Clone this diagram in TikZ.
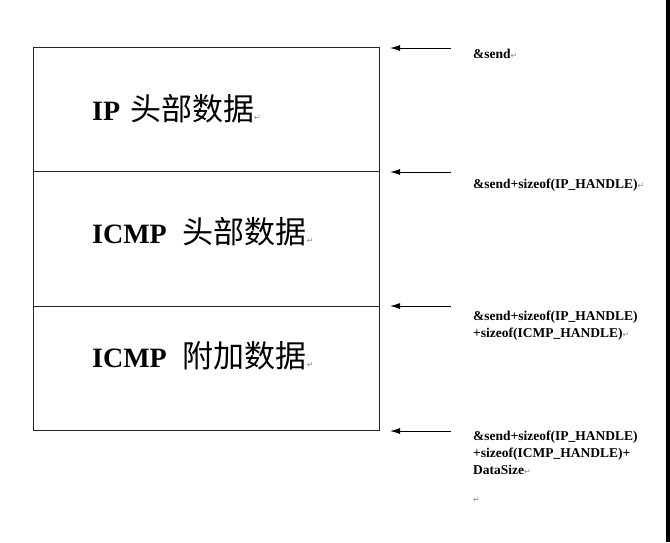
\documentclass[tikz,border=0pt]{standalone}
\usepackage{fontspec}
\setmainfont{Liberation Serif}
\newfontfamily\cjk{Noto Sans CJK SC}
\newfontfamily\markfont{DejaVu Sans}
\usetikzlibrary{arrows.meta,positioning}

\newcommand{\zh}[1]{{\cjk\mdseries\fontsize{31}{31}\selectfont #1}}
\newcommand{\pmark}{{\markfont\mdseries\fontsize{8}{8}\selectfont\color{black!45}↵}}

\begin{document}
\begin{tikzpicture}[x=1pt,y=-1pt,
    box/.style={draw=black!85, line width=0.9pt},
    boxtext/.style={anchor=base west, inner sep=0, font=\bfseries\fontsize{28}{30}\selectfont},
    addr/.style={anchor=base west, inner sep=0, align=left, font=\bfseries\fontsize{13.5}{17}\selectfont},
    ptr/.style={-{Latex[length=10pt,width=6pt]}, line width=1pt}]

    \useasboundingbox (0,0) rectangle (670,542);

    % Stack
    \foreach \i/\ya/\yb/\yt/\gap/\name/\zhtext in {1/47/171/120/3/IP/头部数据,
                                    2/171/306/243/9/ICMP/头部数据,
                                    3/306/430/367/9/ICMP/附加数据} {
        \draw [box] (33,\ya) rectangle (379,\yb);
        \node [boxtext] (data\i) at (92,\yt) {\name\ \hspace{\gap pt}\zh{\zhtext}\pmark};
    }

    % Pointers
    \foreach \i/\y in {1/48,2/172,3/306,4/431} {
        \coordinate (from\i) at (451,\y);
        \coordinate (to\i) at (390,\y);
        \draw [ptr] (from\i) -- (to\i);
    }

    % Addresses (base = last line)
    \node [addr] (addr1) at (473,58) {\&send\pmark};
    \node [addr] (addr2) at (473,188) {\&send+sizeof(IP\_HANDLE)\pmark};
    \node [addr] (addr3) at (473,337) {\&send+sizeof(IP\_HANDLE)\\+sizeof(ICMP\_HANDLE)\pmark};
    \node [addr] (addr4) at (473,502) {\&send+sizeof(IP\_HANDLE)\\+sizeof(ICMP\_HANDLE)+\\DataSize\pmark\\[11pt]\pmark};

    % edge of the screenshot
    \fill (666,0) rectangle (670,542);
\end{tikzpicture}
\end{document}
